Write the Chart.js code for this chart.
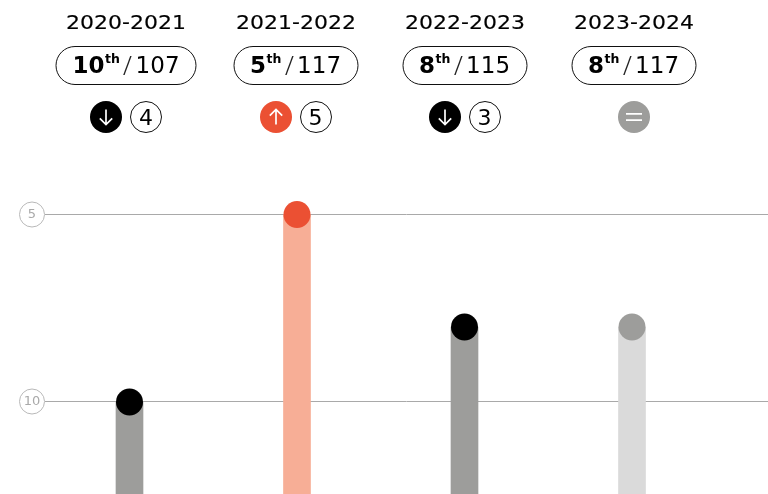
<!DOCTYPE html>
<html>
<head>
<meta charset="utf-8">
<script src="https://cdn.jsdelivr.net/npm/chart.js@4"></script>
<style>
html,body{margin:0;padding:0;background:#fff;overflow:hidden}
body{width:768px;height:494px;position:relative;font-family:"DejaVu Sans",sans-serif;color:#000}
canvas{position:absolute;left:0;top:0}
.col{position:absolute;top:0;width:160px;margin-left:-80px}
.title{position:absolute;top:10px;left:0;width:100%;text-align:center;font-size:20px;line-height:24px;transform:scaleX(1.1);-webkit-text-stroke:0.15px #000}
.pill{position:absolute;top:46px;box-sizing:border-box;height:39px;border:1.2px solid #111;border-radius:20px;display:flex;align-items:baseline;justify-content:center;font-size:23px;line-height:37px;white-space:nowrap;left:50%;transform:translateX(-50%)}
.pill b{font-weight:700}
.pill sup{font-size:12.5px;font-weight:700;line-height:0;position:relative;vertical-align:baseline;top:-10.5px;margin-left:0.5px}
.pill .sl{font-family:"DejaVu Sans";font-weight:200;margin:0 4px;color:#222;transform:scaleX(1.2)}
.badges{position:absolute;top:101px;left:0;width:100%;display:flex;justify-content:center;gap:8px}
.b{width:32px;height:32px;border-radius:50%;box-sizing:border-box;display:flex;align-items:center;justify-content:center}
.n{border:1.2px solid #111;font-size:22px}
</style>
</head>
<body>
<canvas id="c" width="768" height="494"></canvas>
<div id="head"></div>
<script>
const categories = ["2020-2021","2021-2022","2022-2023","2023-2024"];
const ranks = [10,5,8,8];
const totals = [107,117,115,117];
const changes = [-4,5,-3,0];
const barColors = ["#9d9d9b","#f7ae96","#9d9d9b","#dadada"];
const dotColors = ["#000000","#eb5033","#000000","#9d9d9b"];
const rankTicks = [5,10];
const rankTop = 3;
const rankBottom = 12.4533;

const headCenters = [126,295.5,464.5,633.5];
const pillWidths = [141,125,125,125];
const up = '<svg width="20" height="20" viewBox="0 0 20 20" fill="none" stroke="#fff" stroke-width="1.7"><path d="M10 2.5V17.5M3.8 8.7L10 2.5L16.2 8.7"/></svg>';
const down = '<svg width="20" height="20" viewBox="0 0 20 20" fill="none" stroke="#fff" stroke-width="1.7"><path d="M10 2.5V17.5M3.8 11.3L10 17.5L16.2 11.3"/></svg>';
const same = '<svg width="20" height="20" viewBox="0 0 20 20" fill="none" stroke="#fff" stroke-width="1.8"><path d="M2 6.8H18M2 13.2H18"/></svg>';
const head = document.getElementById('head');
categories.forEach((c,i)=>{
  const d = changes[i];
  const col = document.createElement('div');
  col.className='col';
  col.style.left = headCenters[i]+'px';
  const bg = d<0 ? '#000' : d>0 ? '#eb5033' : '#9d9d9b';
  col.innerHTML = `<div class="title">${c}</div>
  <div class="pill" style="width:${pillWidths[i]}px"><b>${ranks[i]}</b><sup>th</sup><span class="sl">/</span><span class="tot">${totals[i]}</span></div>
  <div class="badges"><div class="b" style="background:${bg}">${d<0?down:d>0?up:same}</div>${d!==0?`<div class="b n">${Math.abs(d)}</div>`:''}</div>`;
  head.appendChild(col);
});

const rankGuides = {
  id:'rankGuides',
  beforeDatasetsDraw(chart){
    const {ctx,scales:{y},width} = chart;
    ctx.save();
    y.ticks.forEach(t=>{
      const py = Math.floor(y.getPixelForValue(t.value)-0.01)+0.5;
      ctx.strokeStyle='#a9a9a9'; ctx.lineWidth=1;
      ctx.beginPath(); ctx.moveTo(45,py); ctx.lineTo(width,py); ctx.stroke();
      ctx.beginPath(); ctx.arc(32,py,12.5,0,Math.PI*2);
      ctx.strokeStyle='#b8b8b8'; ctx.stroke();
      ctx.fillStyle='#a9a9a9'; ctx.font='13px "DejaVu Sans"';
      ctx.textAlign='center'; ctx.textBaseline='middle';
      ctx.fillText(String(t.value),32,py+0.5);
    });
    ctx.restore();
  }
};

new Chart(document.getElementById('c'),{
  data:{
    labels:categories,
    datasets:[
      {type:'line',data:ranks,showLine:false,pointRadius:13.5,pointHoverRadius:13.5,pointBorderWidth:0,pointBackgroundColor:dotColors,order:1,clip:false},
      {type:'bar',data:ranks,base:rankBottom,backgroundColor:barColors,barThickness:27,borderWidth:0,order:2}
    ]
  },
  options:{
    responsive:false,animation:false,
    layout:{autoPadding:false,padding:{left:45.75,right:52.25,top:139.5,bottom:0}},
    plugins:{legend:{display:false},tooltip:{enabled:false}},
    scales:{
      x:{display:false,offset:true,grid:{display:false}},
      y:{display:false,reverse:true,min:rankTop,max:rankBottom,
         afterBuildTicks(s){s.ticks=rankTicks.map(v=>({value:v}));},
         grid:{display:false}}
    }
  },
  plugins:[rankGuides]
});
</script>
</body>
</html>
